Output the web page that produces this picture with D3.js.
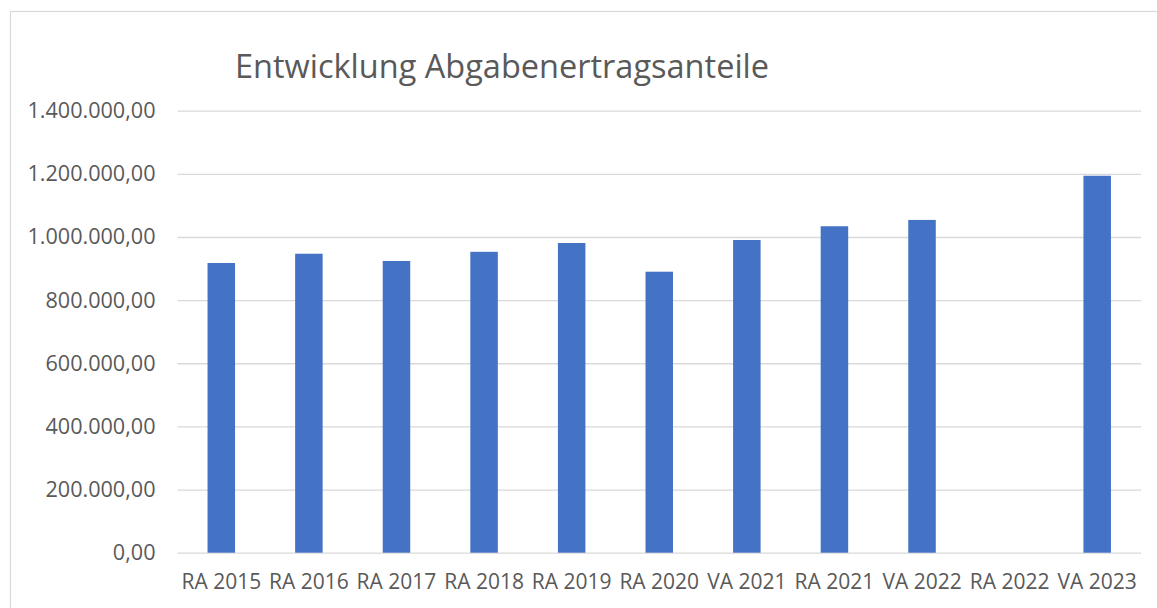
<!DOCTYPE html>
<html>
<head>
<meta charset="utf-8">
<script src="https://cdn.jsdelivr.net/npm/d3@7"></script>
<style>
  body { margin: 0; background: white; }
  svg { display: block; font-family: "Open Sans", sans-serif; }
</style>
</head>
<body>
<div id="d3_cont"></div>
<script>
// data
var categories = ["RA 2015", "RA 2016", "RA 2017", "RA 2018", "RA 2019", "RA 2020",
   "VA 2021", "RA 2021", "VA 2022", "RA 2022", "VA 2023"];
var values = [917600, 947000, 924000, 953000, 981000, 890000,
   990500, 1034000, 1054000, null, 1194000];
var yTicks = [0, 200000, 400000, 600000, 800000, 1000000, 1200000, 1400000];
var title = "Entwicklung Abgabenertragsanteile";

var W = 1157, H = 608;
var margin = { top: 110.7, right: 16, bottom: 55.3, left: 177.5 },
   width = 1141 - margin.left,
   height = 552.7 - margin.top;

var svg = d3.select("#d3_cont")
   .append("svg")
   .attr("width", W)
   .attr("height", H);

// chart border (only top and left are inside the picture)
svg.append("rect")
   .attr("x", 10.5)
   .attr("y", 11.5)
   .attr("width", W + 20)
   .attr("height", H + 20)
   .attr("fill", "white")
   .attr("stroke", "#d9d9d9")
   .attr("stroke-width", 1.2);

var g = svg.append("g")
   .attr("transform", "translate(" + margin.left + "," + margin.top + ")");

var x = d3.scaleBand()
   .domain(categories)
   .range([0, width])
   .paddingInner(0.686)
   .paddingOuter(0.343);

var y = d3.scaleLinear()
   .domain([0, 1400000])
   .range([height, 0]);

// german number format
var de = d3.formatLocale({ decimal: ",", thousands: ".", grouping: [3], currency: ["", " €"] });
var fmt = de.format(",.2f");

// gridlines + y labels
var yAxis = g.append("g")
   .call(d3.axisLeft(y).tickValues(yTicks).tickSize(-width).tickPadding(22).tickFormat(fmt));
yAxis.select(".domain").remove();
yAxis.selectAll(".tick line")
   .attr("stroke", "#d9d9d9")
   .attr("stroke-width", 1.3);
yAxis.selectAll(".tick text")
   .attr("fill", "#595959")
   .style("font-size", "21.6px")
   .style("font-family", "'Open Sans', sans-serif");

// x labels
var xAxis = g.append("g")
   .attr("transform", "translate(0," + height + ")")
   .call(d3.axisBottom(x).tickSize(0).tickPadding(21));
xAxis.select(".domain").remove();
xAxis.selectAll(".tick text")
   .attr("fill", "#595959")
   .style("font-size", "21px")
   .style("font-family", "'Open Sans', sans-serif");

// bars
g.append("g")
   .selectAll("rect")
   .data(categories.map(function (c, i) { return { cat: c, val: values[i] }; })
      .filter(function (d) { return d.val != null; }))
   .enter()
   .append("rect")
   .attr("x", function (d) { return x(d.cat); })
   .attr("y", function (d) { return y(d.val); })
   .attr("width", x.bandwidth())
   .attr("height", function (d) { return height - y(d.val); })
   .attr("fill", "#4472c4");

// title
svg.append("text")
   .attr("x", 235)
   .attr("y", 78)
   .attr("fill", "#595959")
   .style("font-size", "32.5px")
   .text(title);
</script>
</body>
</html>
